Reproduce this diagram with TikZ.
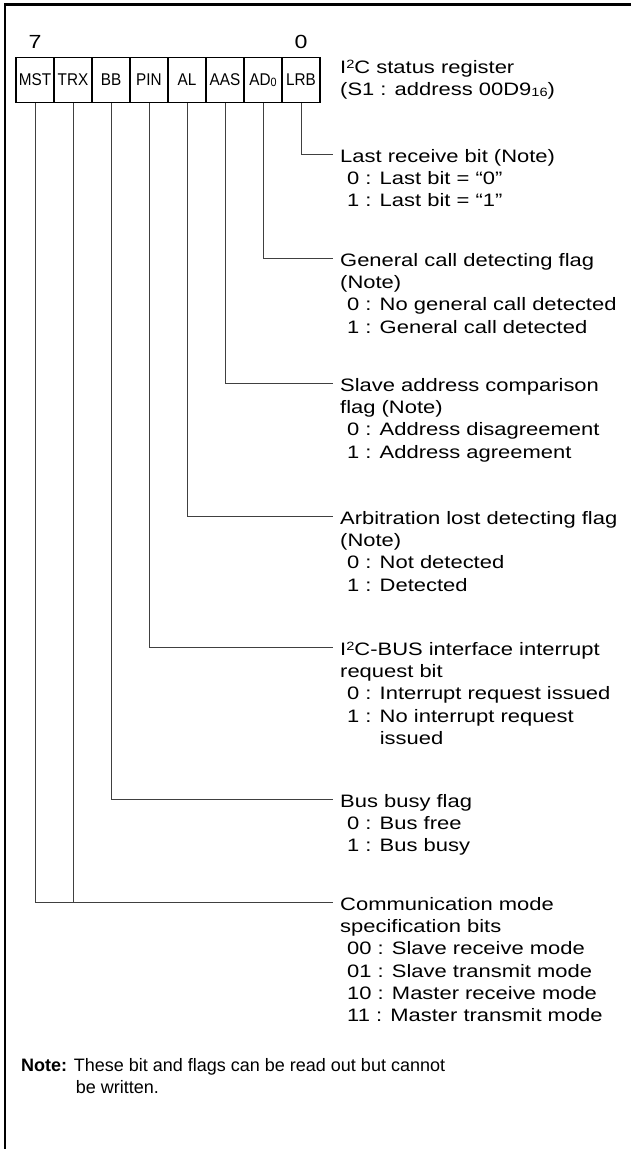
\documentclass[tikz,border=0pt]{standalone}
\usepackage{fontspec}
\setmainfont{Liberation Sans}[FakeStretch=1.22]
\newfontfamily\regfont{Liberation Sans}[FakeStretch=0.9]
\newfontfamily\notefont{Liberation Sans}
\usetikzlibrary{positioning}

\newcommand\upsc[1]{\raisebox{4.3pt}{\fontsize{12}{12}\selectfont #1}}
\newcommand\dnsc[1]{\raisebox{-1pt}{\fontsize{12}{12}\selectfont #1}}

\tikzset{
  bitbox/.style={draw, line width=1.2pt, minimum width=38pt, minimum height=45pt,
    inner sep=0pt, font=\regfont\fontsize{17}{17}\selectfont},
  bitnum/.style={inner sep=0pt, font=\fontsize{19}{19}\selectfont},
  desc/.style={anchor=north west, align=left, inner sep=0pt,
    font=\fontsize{18}{22.3}\selectfont},
  lead/.style={draw=black!75, line width=0.8pt}
}

\begin{document}
\begin{tikzpicture}[x=1pt, y=-1pt]
    \useasboundingbox (0,0) rectangle (631,1149);
    \draw[line width=2.2pt] (5,1149) -- (5,4.5) -- (631,4.5);

    \node[bitbox] (mst) at (35,80) {MST};
    \node[bitbox] (trx) at (73,80) {TRX};
    \node[bitbox] (bb) at (111,80) {BB};
    \node[bitbox] (pin) at (149,80) {PIN};
    \node[bitbox] (al) at (187,80) {AL};
    \node[bitbox] (aas) at (225,80) {AAS};
    \node[bitbox] (ad0) at (263,80) {AD\dnsc{0}};
    \node[bitbox] (lrb) at (301,80) {LRB};

    \node[bitnum] (b7) at (35,42) {7};
    \node[bitnum] (b0) at (301,42) {0};

    \node[desc] (title) at (340,60) {I\upsc{2}C status register\\(S1 : address 00D9\dnsc{16})};

    \node[desc] (lrbtext) at (340,149) {Last receive bit (Note)\\
      \hspace*{7pt}0 : Last bit = “0”\\
      \hspace*{7pt}1 : Last bit = “1”};
    \node[desc] (ad0text) at (340,253) {General call detecting flag\\(Note)\\
      \hspace*{7pt}0 : No general call detected\\
      \hspace*{7pt}1 : General call detected};
    \node[desc] (aastext) at (340,378) {Slave address comparison\\flag (Note)\\
      \hspace*{7pt}0 : Address disagreement\\
      \hspace*{7pt}1 : Address agreement};
    \node[desc] (altext) at (340,511) {Arbitration lost detecting flag\\(Note)\\
      \hspace*{7pt}0 : Not detected\\
      \hspace*{7pt}1 : Detected};
    \node[desc] (pintext) at (340,642) {I\upsc{2}C-BUS interface interrupt\\request bit\\
      \hspace*{7pt}0 : Interrupt request issued\\
      \hspace*{7pt}1 : No interrupt request\\
      \hspace*{7pt}\hphantom{1 : }issued};
    \node[desc] (bbtext) at (340,794) {Bus busy flag\\
      \hspace*{7pt}0 : Bus free\\
      \hspace*{7pt}1 : Bus busy};
    \node[desc] (modetext) at (340,897) {Communication mode\\specification bits\\
      \hspace*{7pt}00 : Slave receive mode\\
      \hspace*{7pt}01 : Slave transmit mode\\
      \hspace*{7pt}10 : Master receive mode\\
      \hspace*{7pt}11 : Master transmit mode};

    \node[desc, font=\notefont\fontsize{18}{22.3}\selectfont] (note) at (21,1058)
      {\textbf{Note:} These bit and flags can be read out but cannot\\
      \hphantom{\textbf{Note:} }\hspace*{2pt}be written.};

    \coordinate (lrbend) at (333,154);
    \coordinate (ad0end) at (333,258);
    \coordinate (aasend) at (333,383);
    \coordinate (alend) at (333,516);
    \coordinate (pinend) at (333,647);
    \coordinate (bbend) at (333,799);
    \coordinate (modeend) at (333,902);

    \draw[lead] (lrb.south) |- (lrbend);
    \draw[lead] (ad0.south) |- (ad0end);
    \draw[lead] (aas.south) |- (aasend);
    \draw[lead] (al.south) |- (alend);
    \draw[lead] (pin.south) |- (pinend);
    \draw[lead] (bb.south) |- (bbend);
    \draw[lead] (trx.south) -- (trx.south |- modeend);
    \draw[lead] (mst.south) |- (modeend);
\end{tikzpicture}
\end{document}
